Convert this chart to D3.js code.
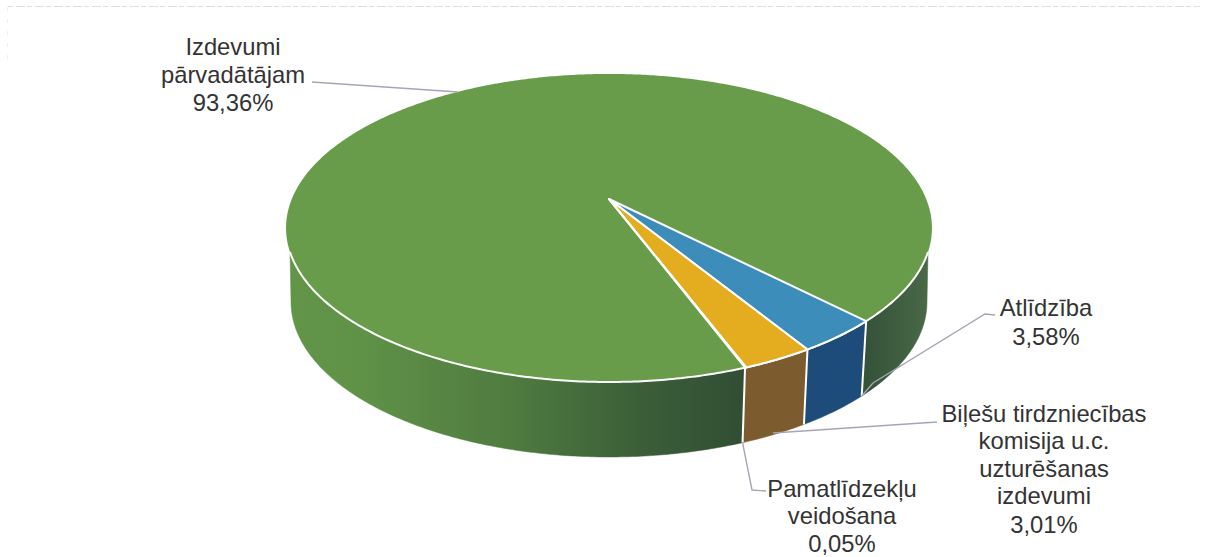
<!DOCTYPE html>
<html><head><meta charset="utf-8">
<script src="https://cdn.jsdelivr.net/npm/d3@7"></script>
<style>html,body{margin:0;padding:0;background:#fff}svg{display:block}</style>
</head><body><svg id="c" width="1206" height="557"></svg>
<script>
const categories = ["Atlīdzība","Biļešu tirdzniecības komisija u.c. uzturēšanas izdevumi","Pamatlīdzekļu veidošana","Izdevumi pārvadātājam"];
const values = [3.58,3.01,0.05,93.36];
const valueLabels = ["3,58%","3,01%","0,05%","93,36%"];
const labelLines = [["Atlīdzība"],["Biļešu tirdzniecības","komisija u.c.","uzturēšanas","izdevumi"],["Pamatlīdzekļu","veidošana"],["Izdevumi","pārvadātājam"]];
const topColors = ["#3d8dbb","#e4ad1f","#e4ad1f","#689c4a"];
const wallColors = ["#1e4c7a","#7c5b2e","#7c5b2e",null];

const svg = d3.select("#c");
const rad = d => d*Math.PI/180;
// perspective disc: a is clockwise from the top of the pie
function disc(X0,Y0,A,B,k){return a=>{const u=Math.sin(a),v=-Math.cos(a),d=1-k*v;return [X0+A*u/d,Y0+B*v/d];};}
const kT=0.188,kB=0.185;
const apex=[609,199];
const topRim=disc(apex[0],apex[1],317.2,148.6,kT), botRim=disc(609,273.3,312.5,149.7,kB);
const startA=rad(135.4);
const arcs=d3.pie().sort(null).value(d=>d).startAngle(startA).endAngle(startA+2*Math.PI)(values);
const sample=(f,a,b)=>{const n=Math.max(2,Math.ceil(Math.abs(b-a)/0.01));return d3.range(n+1).map(i=>f(a+(b-a)*i/n));};
const line=d3.line();

// faint scan edge of the page
svg.append("line").attr("x1",8).attr("x2",1200).attr("y1",6.5).attr("y2",6.5).attr("stroke","#dedee2").attr("stroke-width",1).attr("stroke-dasharray","5 3 9 2");
svg.append("line").attr("x1",7.5).attr("x2",7.5).attr("y1",7).attr("y2",60).attr("stroke","#f0f0f0").attr("stroke-width",1).attr("stroke-dasharray","4 8");

const defs=svg.append("defs");
const g=defs.append("linearGradient").attr("id","gw").attr("gradientUnits","userSpaceOnUse").attr("x1",286).attr("x2",932).attr("y1",0).attr("y2",0);
[[0,"#629548"],[.12,"#5f9147"],[.35,"#4f7b40"],[.55,"#3b5e38"],[.7,"#324f35"],[.9,"#345339"],[1,"#4a6a48"]].forEach(s=>g.append("stop").attr("offset",s[0]).attr("stop-color",s[1]));

// visible wall ranges: the rim only starts shedding a wall below the widest point of the disc
const rimSpan=Math.acos(0.334),tR=Math.PI-rimSpan,tL=Math.PI+rimSpan,bR=Math.PI-Math.acos(kB),bL=Math.PI+Math.acos(kB);
const wallG=svg.append("g");
arcs.forEach((s,i)=>{
  [0,-2*Math.PI].forEach(off=>{
    const a0=s.startAngle+off,a1=s.endAngle+off;
    if(a1<=bR||a0>=bL) return;
    const t0=Math.max(a0,tR),t1=Math.min(a1,tL),b0=Math.max(a0,bR),b1=Math.min(a1,bL);
    const pts=sample(topRim,t0,t1).concat(sample(botRim,b1,b0));
    wallG.append("path").attr("d",line(pts)+"Z").attr("fill",wallColors[i]||"url(#gw)").attr("stroke",wallColors[i]||"url(#gw)").attr("stroke-width",0.5);
  });
});
// white edges on the wall
[arcs[0].startAngle,arcs[0].endAngle,arcs[2].endAngle].forEach(a=>{
  const p=topRim(a),q=botRim(a);
  wallG.append("line").attr("x1",p[0]).attr("y1",p[1]).attr("x2",q[0]).attr("y2",q[1]).attr("stroke","#fff").attr("stroke-width",2);
});
// top face: large slice first, then the front rim, then the narrow slices with their white outlines
const topG=svg.append("g");
const facePath=s=>line([apex].concat(sample(topRim,s.startAngle,s.endAngle)))+"Z";
topG.append("path").attr("d",facePath(arcs[3])).attr("fill",topColors[3]);
topG.append("path").attr("d",line(sample(topRim,tR,tL))).attr("fill","none").attr("stroke","#fff").attr("stroke-width",2);
arcs.slice(0,3).forEach((s,i)=>{
  topG.append("path").attr("d",facePath(s)).attr("fill",topColors[i]).attr("stroke","#fff").attr("stroke-width",2).attr("stroke-linejoin","round");
});

// leader lines
const leaders=[
 [[995,315],[985,314],[873,383],botRim(arcs[0].startAngle)],
 [[937,422],[773,433]],
 [[766,491],[752,490],botRim(arcs[2].endAngle)],
 [[312,82],[458,92]]
];
svg.append("g").selectAll("path").data(leaders).join("path").attr("d",d=>line(d)).attr("fill","none").attr("stroke","#a8a4b4").attr("stroke-width",1.4);

// labels
const labelPos=[[1046,[316]],[1044,[422,449,477,504,533]],[842,[497,524,552]],[233,[55,83,111]]];
const lg=svg.append("g").attr("font-family","'Liberation Sans',Arial,sans-serif").attr("font-size",23.8).attr("fill","#333").attr("text-anchor","middle");
labelLines.forEach((ls,i)=>{
  const [x,ys]=labelPos[i];
  ls.concat([valueLabels[i]]).forEach((t,j)=>{
    const y = ys[j]!==undefined?ys[j]:ys[ys.length-1]+29*(j-ys.length+1);
    lg.append("text").attr("x",x).attr("y",y).text(t);
  });
});
</script></body></html>
